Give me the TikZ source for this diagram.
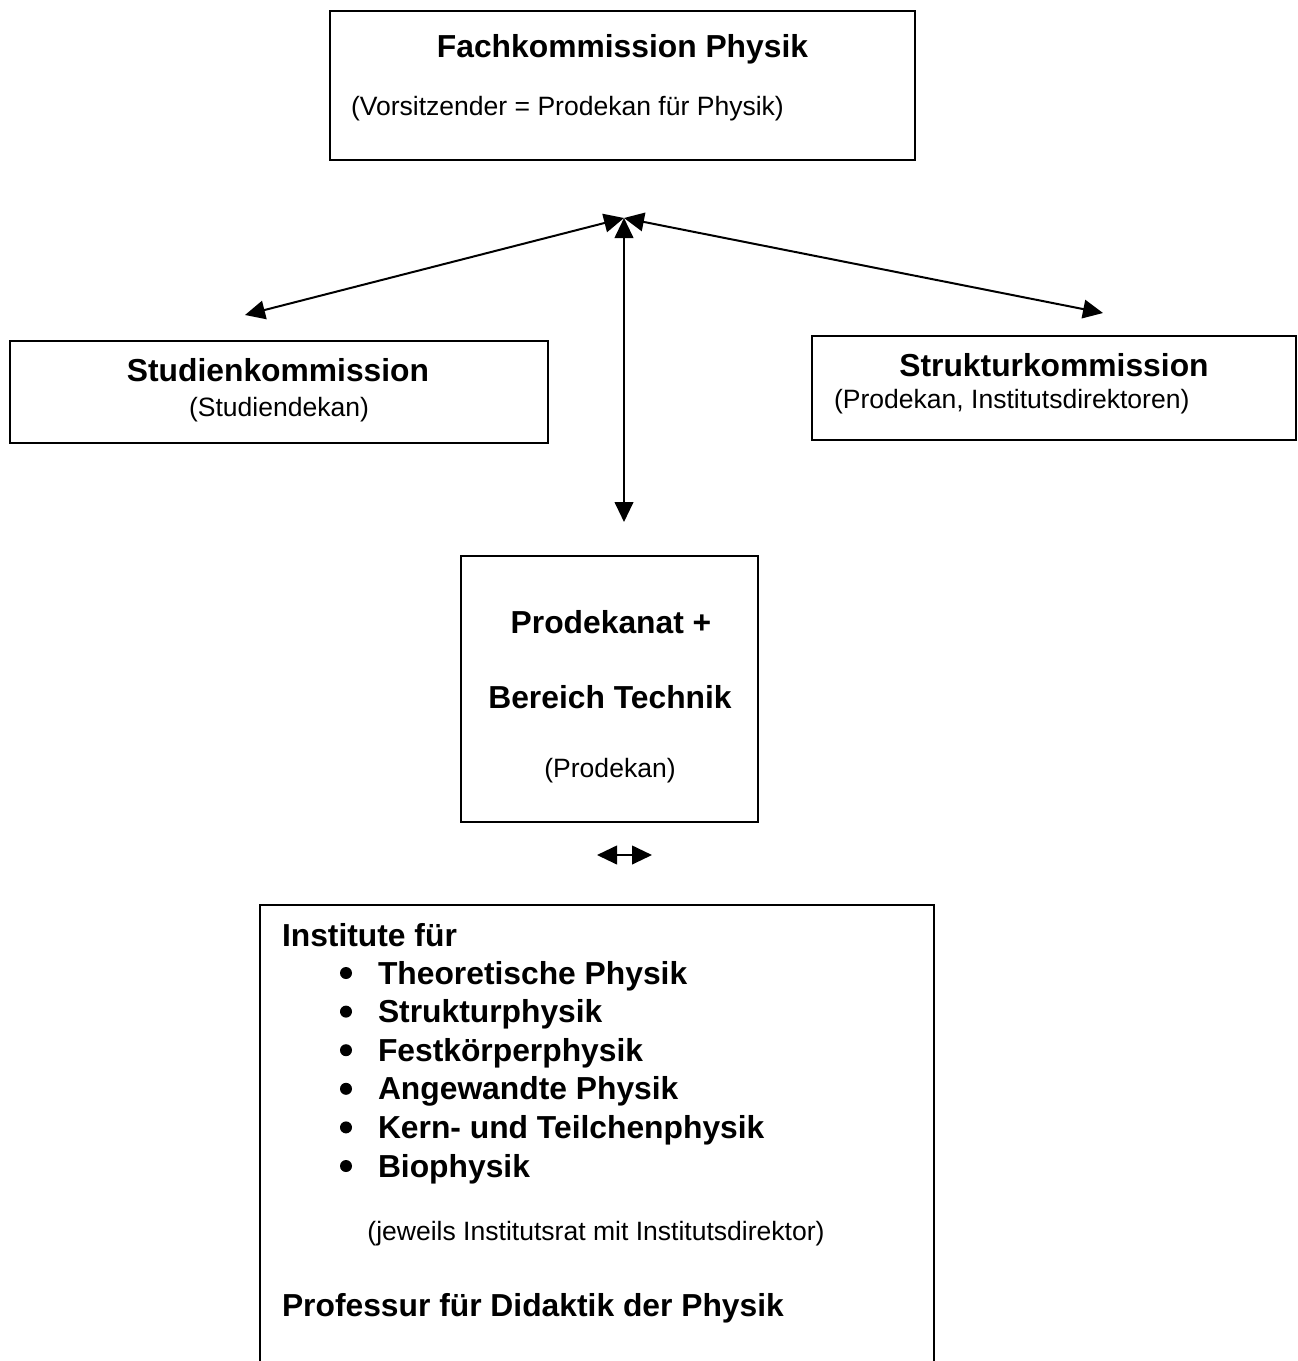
\documentclass[tikz,border=0pt]{standalone}
\usepackage{fontspec}
\setmainfont{Liberation Sans}
\usetikzlibrary{arrows.meta}

\tikzset{every picture/.style={line width=1.5pt}}
\tikzset{
  boldtxt/.style={inner sep=0pt, font=\fontsize{23.85}{28}\selectfont\bfseries},
  smalltxt/.style={inner sep=0pt, font=\fontsize{19.9}{24}\selectfont},
  listdot/.style={circle, fill, draw=none, inner sep=0pt, minimum size=9pt},
  twoway/.style={{Triangle[length=15pt,width=14pt]}-{Triangle[length=15pt,width=14pt]}},
}

\begin{document}
\begin{tikzpicture}[x=0.75pt,y=0.75pt,yscale=-1,xscale=1]
	\useasboundingbox (0,0) rectangle (1297,1361);

	%Shape: Rectangle [Fachkommission]
	\draw   (330,11) rectangle (915,160) ;
	% Text Node
	\node [boldtxt, anchor=base] (fach) at (622.5,57) {Fachkommission Physik};
	% Text Node
	\node [smalltxt, anchor=base west] (vors) at (350,115) {(Vorsitzender = Prodekan für Physik)};

	%Shape: Rectangle [Studienkommission]
	\draw   (10,341) rectangle (548,443) ;
	% Text Node
	\node [boldtxt, anchor=base] (stud) at (278,381) {Studienkommission};
	% Text Node
	\node [smalltxt, anchor=base] (studdek) at (279,416) {(Studiendekan)};

	%Shape: Rectangle [Strukturkommission]
	\draw   (812,336) rectangle (1296,440) ;
	% Text Node
	\node [boldtxt, anchor=base] (strukt) at (1054,376) {Strukturkommission};
	% Text Node
	\node [smalltxt, anchor=base west] (struktdir) at (833,408) {(Prodekan, Institutsdirektoren)};

	%Shape: Rectangle [Prodekanat]
	\draw   (461,556) rectangle (758,822) ;
	% Text Node
	\node [boldtxt, anchor=base] (prodek) at (611,633) {Prodekanat +};
	% Text Node
	\node [boldtxt, anchor=base] (technik) at (610,708) {Bereich Technik};
	% Text Node
	\node [smalltxt, anchor=base] (prodekan) at (610,777) {(Prodekan)};

	%Shape: open box [Institute]
	\draw   (260,1365) -- (260,905) -- (934,905) -- (934,1365) ;
	% Text Node
	\node [boldtxt, anchor=base west] (inst) at (281,946) {Institute für};
	\foreach \name [count=\i] in {Theoretische Physik, Strukturphysik, Festkörperphysik, Angewandte Physik, Kern- und Teilchenphysik, Biophysik}
	{
		\node [listdot] (dot\i) at (346,{984+38.6*(\i-1)-11}) {};
		\node [boldtxt, anchor=base west] (item\i) at (377,{984+38.6*(\i-1)}) {\name};
	}
	% Text Node
	\node [smalltxt, anchor=base] (rat) at (596,1240) {(jeweils Institutsrat mit Institutsdirektor)};
	% Text Node
	\node [boldtxt, anchor=base west] (didak) at (281,1316) {Professur für Didaktik der Physik};

	%Straight Lines [arrows]
	\coordinate (apex) at (624,218);
	\coordinate (studtip) at (245,315);
	\coordinate (strukttip) at (1103,313);
	\coordinate (prodtip) at (624,522);
	\draw [twoway] (studtip) -- (apex) ;
	\draw [twoway] (strukttip) -- (apex) ;
	\draw [twoway] (prodtip) -- (apex) ;
	%Straight Lines [small]
	\coordinate (lefttip) at (597,855);
	\coordinate (righttip) at (652,855);
	\draw [twoway] (lefttip) -- (righttip) ;

\end{tikzpicture}
\end{document}
